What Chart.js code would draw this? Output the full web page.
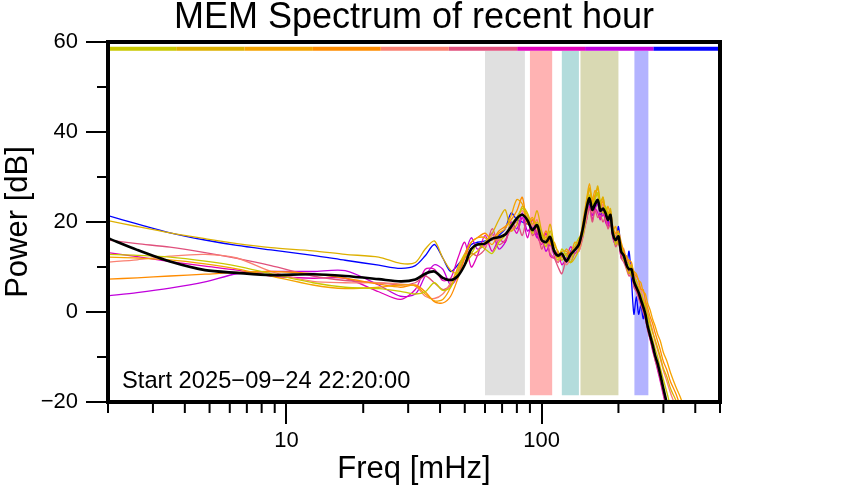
<!DOCTYPE html>
<html>
<head>
<meta charset="utf-8">
<script src="https://cdn.jsdelivr.net/npm/chart.js@4.4.0/dist/chart.umd.min.js"></script>
<style>
  html, body { margin: 0; padding: 0; background: #fff; }
</style>
</head>
<body>
<canvas id="memChart" width="842" height="500"></canvas>
<script>
// frequencies (mHz) shared by every spectrum
var freqs = [2, 2.6, 3.5, 4.8, 6.4, 8.7, 12.7, 17, 23,
  28, 32, 35, 38, 41, 44, 47, 50, 53, 56,
  60, 64, 68, 72, 76, 80, 84, 88, 92, 96,
  100, 104, 108, 112, 116, 120, 125, 130, 135, 140,
  145, 150, 154, 158, 162, 166, 170, 174, 178, 182,
  186, 190, 195, 200, 205, 210, 215, 220, 225, 230,
  235, 240, 245, 250, 255, 260, 266, 272, 278, 285,
  292, 300, 310, 320, 335, 350, 370];

// mean spectrum of the hour (black)
var meanPower = [16.4, 13.8, 11.2, 9.3, 8.7, 8.2, 8.4, 8.0, 7.3,
  6.8, 7.2, 8.5, 9.0, 7.6, 7.1, 8.0, 10.5, 14.0, 15.0,
  15.2, 16.3, 16.6, 17.2, 19.0, 20.8, 21.6, 20.4, 18.2, 19.3,
  16.0, 15.5, 16.7, 13.5, 12.5, 13.0, 11.3, 12.8, 13.8, 15.0,
  18.5, 23.0, 25.3, 22.7, 24.0, 24.9, 22.5, 23.0, 22.0, 20.5,
  21.6, 17.5, 16.0, 16.8, 13.4, 12.5, 10.5, 9.5, 9.5, 6.8,
  5.5, 4.3, 2.7, 1.2, -0.5, -3.0, -5.2, -7.2, -9.5, -11.5,
  -14.0, -17.0, -20.5, -24.0, -28.0, -32.0, -37.0];

// the nine spectra of the hour, oldest first
var run1 = [12.8, 12.6, 12.2, 11.3, 10.2, 8.5, 6.5, 5.5, 5.2,
  4.6, 4.0, 4.5, 6.5, 4.8, 5.5, 9.0, 12.5, 13.0, 15.0,
  14.0, 13.0, 15.5, 17.0, 19.5, 21.0, 23.0, 21.5, 17.5, 20.0,
  17.5, 14.5, 18.0, 14.0, 11.5, 14.0, 12.5, 11.0, 14.5, 16.5,
  17.0, 22.5, 26.0, 23.5, 25.0, 26.5, 23.5, 22.0, 23.5, 21.5,
  20.0, 18.5, 15.0, 17.5, 14.5, 11.5, 11.0, 10.5, 8.0, 7.5,
  7.0, 4.5, 4.0, 2.5, 0.5, -1.0, -4.0, -6.0, -8.0, -10.0,
  -12.5, -15.0, -18.0, -21.0, -24.5, -28.0, -33.0];
var run2 = [20.3, 19.0, 17.6, 16.3, 15.2, 14.3, 13.6, 12.8, 12.2,
  10.8, 11.0, 14.0, 15.8, 12.0, 9.3, 8.5, 10.5, 12.5, 13.5,
  15.5, 17.5, 20.5, 22.7, 18.0, 19.5, 23.5, 22.0, 19.5, 22.5,
  18.0, 16.0, 19.5, 15.0, 13.5, 11.5, 13.0, 11.0, 12.0, 14.0,
  18.5, 24.5, 27.5, 24.0, 25.5, 28.0, 24.5, 25.5, 22.5, 21.0,
  23.0, 18.5, 16.5, 15.0, 14.5, 13.0, 10.0, 8.5, 10.5, 8.0,
  6.0, 5.5, 3.5, 2.5, 1.5, -0.5, -2.5, -4.5, -6.0, -8.0,
  -10.0, -12.5, -14.5, -17.0, -19.5, -22.0, -26.0];
var run3 = [12.2, 12.0, 11.6, 10.7, 9.6, 8.0, 6.0, 5.2, 5.5,
  6.0, 5.8, 4.0, 2.5, 2.8, 5.5, 10.0, 13.0, 15.5, 16.5,
  16.5, 15.0, 17.5, 18.5, 21.5, 25.0, 24.0, 20.0, 21.0, 18.5,
  17.0, 16.5, 15.0, 15.5, 13.0, 12.0, 14.0, 13.0, 15.5, 15.0,
  20.0, 25.0, 28.5, 25.0, 27.0, 26.0, 23.0, 25.5, 21.5, 23.5,
  21.0, 18.0, 19.0, 16.0, 15.0, 12.0, 12.5, 10.5, 10.0, 9.0,
  8.5, 7.0, 6.5, 4.5, 4.0, 2.0, 0.5, -1.5, -3.0, -5.0,
  -6.5, -9.0, -11.0, -13.5, -16.5, -19.0, -23.0];
var run4 = [7.3, 7.6, 8.0, 8.4, 8.8, 9.0, 8.5, 7.5, 6.2,
  5.5, 6.0, 4.5, 2.3, 2.0, 3.5, 7.5, 12.0, 15.5, 16.5,
  17.5, 16.0, 18.0, 19.0, 20.5, 22.5, 25.5, 19.5, 20.5, 19.0,
  16.0, 18.0, 15.5, 14.0, 12.0, 13.5, 13.5, 12.5, 14.0, 16.0,
  19.0, 23.5, 27.5, 24.5, 26.0, 27.5, 24.0, 24.5, 23.0, 22.0,
  22.5, 19.0, 17.5, 18.0, 15.5, 13.5, 12.0, 11.5, 11.0, 8.5,
  8.0, 7.0, 5.0, 5.0, 2.5, 1.0, -1.0, -2.5, -4.5, -6.5,
  -8.5, -11.0, -13.0, -15.5, -18.0, -21.0, -25.0];
var run5 = [11.1, 11.6, 12.4, 12.8, 12.0, 9.0, 6.8, 6.5, 6.5,
  6.2, 5.8, 3.5, 3.0, 4.0, 6.5, 9.5, 12.5, 14.0, 15.0,
  14.5, 17.0, 16.0, 17.5, 18.0, 21.0, 22.5, 21.0, 19.0, 20.5,
  15.5, 17.0, 15.5, 13.0, 11.0, 13.0, 10.5, 12.0, 14.5, 13.5,
  17.0, 21.0, 25.0, 22.0, 24.5, 24.5, 22.0, 24.0, 21.5, 22.0,
  21.0, 18.5, 17.0, 17.5, 14.5, 14.0, 11.5, 11.0, 10.0, 9.0,
  7.0, 6.0, 5.0, 3.0, 2.0, 0.0, -2.0, -4.0, -6.5, -8.5,
  -10.5, -13.0, -15.5, -18.0, -21.0, -24.0, -28.0];
var run6 = [16.0, 15.2, 14.4, 13.2, 11.9, 10.3, 8.0, 7.0, 6.5,
  6.0, 6.5, 8.0, 6.5, 5.0, 6.0, 8.5, 12.0, 13.0, 12.5,
  14.0, 18.5, 15.0, 16.0, 18.5, 20.0, 17.0, 21.5, 17.0, 18.0,
  14.0, 16.0, 13.0, 12.0, 10.0, 8.5, 11.5, 11.0, 13.0, 13.5,
  16.5, 20.5, 23.0, 20.0, 22.5, 21.0, 21.5, 20.0, 21.0, 18.5,
  19.5, 17.5, 14.5, 15.5, 12.0, 11.0, 9.5, 8.0, 8.5, 5.5,
  4.5, 3.0, 1.5, 0.0, -1.5, -4.0, -6.0, -8.0, -10.5, -12.5,
  -15.0, -18.0, -21.5, -25.0, -29.0, -33.0, -38.0];
var run7 = [13.2, 12.3, 11.2, 10.2, 9.3, 8.0, 7.5, 7.5, 4.5,
  2.8, 5.0, 9.5, 9.5, 7.0, 7.5, 12.0, 15.5, 10.0, 12.5,
  17.0, 13.5, 16.0, 15.5, 19.5, 17.5, 21.0, 16.5, 20.5, 17.0,
  15.0, 17.5, 12.5, 12.0, 13.5, 10.5, 12.0, 14.5, 13.0, 14.5,
  17.5, 20.5, 23.5, 20.5, 23.0, 22.0, 20.5, 22.5, 20.0, 19.0,
  21.0, 16.5, 15.0, 16.5, 12.0, 12.0, 10.0, 8.5, 9.0, 6.0,
  5.0, 3.5, 2.5, 0.5, -1.5, -3.5, -6.0, -8.5, -10.5, -13.0,
  -15.5, -18.5, -22.0, -25.5, -29.5, -33.5, -38.0];
var run8 = [3.6, 4.3, 5.3, 6.7, 8.5, 9.0, 9.0, 9.2, 6.0,
  3.5, 4.0, 8.0, 10.5, 9.5, 6.0, 8.0, 12.5, 16.5, 14.0,
  15.0, 17.5, 14.0, 15.5, 20.0, 18.5, 22.0, 18.0, 19.0, 16.5,
  16.5, 13.5, 15.0, 12.5, 11.0, 12.5, 11.0, 13.5, 14.5, 15.5,
  18.0, 22.0, 24.5, 21.5, 23.0, 24.0, 21.0, 21.5, 21.5, 19.5,
  20.5, 17.0, 15.5, 16.0, 12.5, 12.0, 10.5, 9.0, 8.0, 6.5,
  5.0, 4.0, 2.0, 1.0, -1.0, -3.0, -5.5, -7.5, -10.0, -12.0,
  -14.5, -17.5, -21.0, -24.5, -28.5, -32.5, -37.0];
var run9 = [21.4, 19.6, 17.6, 16.0, 14.8, 13.8, 12.6, 11.5, 10.4,
  9.7, 10.3, 12.5, 15.0, 12.0, 9.0, 10.5, 12.5, 15.0, 15.5,
  15.8, 16.0, 17.0, 18.5, 22.0, 20.5, 20.0, 19.5, 19.0, 17.5,
  16.4, 15.6, 15.8, 14.0, 12.7, 13.0, 11.6, 13.4, 14.5, 15.0,
  17.5, 22.0, 24.0, 22.0, 23.5, 24.5, 21.5, 22.5, 21.0, 20.0,
  21.0, 17.0, 15.0, 19.0, 13.8, 12.5, 10.0, 13.5, 7.0, -0.5,
  3.4, -0.5, 1.5, -1.5, 1.0, -3.5, -5.5, -8.0, -10.0, -12.5,
  -15.0, -18.0, -21.5, -25.0, -29.0, -33.0, -38.0];
var runColors = ['#c8c800', '#ddb000', '#f5a300', '#ff8c00', '#fa8072',
  '#e0507c', '#e000b8', '#c000dc', '#0000ff'];

// time colour bar along the top (segment edges in mHz) and its level in dB
var timeBarEdges = [2, 3.7, 6.85, 12.7, 23.4, 43.3, 80.2, 148, 274, 500];
var timeBarLevel = 58.5;

// shaded frequency bands (mHz)
var bandLow = [60, 90, 120, 142, 231];
var bandHigh = [86, 110, 140, 200, 262];
var bandColors = ['#e0e0e0', '#ffb3b3', '#b3dcdc', '#d9d9b3', '#b3b3ff'];

// axis ticks
var xMajorTicks = [10, 100];
var xTickLabels = ['10', '100'];
var xMinorTicks = [2, 3, 4, 5, 6, 7, 8, 9, 20, 30, 40, 50, 60, 70, 80, 90, 200, 300, 400, 500];
var yMajorTicks = [-20, 0, 20, 40, 60];
var yTickLabels = ['\u221220', '0', '20', '40', '60'];
var yMinorTicks = [-10, 10, 30, 50];

var startText = 'Start 2025\u221209\u221224 22:20:00';

function toPoints(values) {
  return freqs.map(function(f, i) { return { x: f, y: values[i] }; });
}

var memDecor = {
  id: 'memDecor',
  beforeDatasetsDraw: function(chart) {
    var ctx = chart.ctx, xs = chart.scales.x, ys = chart.scales.y;
    var top = ys.getPixelForValue(58), bot = ys.getPixelForValue(-18.5);
    ctx.save();
    for (var i = 0; i < bandLow.length; i++) {
      var x0 = xs.getPixelForValue(bandLow[i]);
      var x1 = xs.getPixelForValue(bandHigh[i]);
      ctx.fillStyle = bandColors[i];
      ctx.fillRect(x0, top, x1 - x0, bot - top);
    }
    ctx.restore();
  },
  afterDraw: function(chart) {
    var ctx = chart.ctx, a = chart.chartArea, xs = chart.scales.x, ys = chart.scales.y;
    ctx.save();
    ctx.strokeStyle = '#000';
    ctx.lineWidth = 2;
    ctx.beginPath();
    xMinorTicks.forEach(function(v) {
      var px = xs.getPixelForValue(v);
      ctx.moveTo(px, a.bottom);
      ctx.lineTo(px, a.bottom + 11);
    });
    yMinorTicks.forEach(function(v) {
      var py = ys.getPixelForValue(v);
      ctx.moveTo(a.left - 11, py);
      ctx.lineTo(a.left, py);
    });
    ctx.stroke();
    ctx.lineWidth = 4;
    ctx.strokeRect(a.left, a.top, a.right - a.left, a.bottom - a.top);
    ctx.fillStyle = '#000';
    ctx.font = '23.7px "Liberation Sans", Arial, sans-serif';
    ctx.textBaseline = 'alphabetic';
    ctx.fillText(startText, a.left + 14, 388);
    ctx.restore();
  }
};

var datasets = [{
  label: 'mean', data: toPoints(meanPower), borderColor: '#000', borderWidth: 2.6, order: 0
}];
[run1, run2, run3, run4, run5, run6, run7, run8, run9].forEach(function(s, i) {
  datasets.push({ label: 'run ' + (i + 1), data: toPoints(s), borderColor: runColors[i], borderWidth: 1.3, order: 1 });
});
for (var k = 0; k < runColors.length; k++) {
  datasets.push({
    label: 'bar ' + (k + 1),
    data: [{ x: timeBarEdges[k], y: timeBarLevel }, { x: timeBarEdges[k + 1], y: timeBarLevel }],
    borderColor: runColors[k], borderWidth: 4, tension: 0, borderCapStyle: 'butt', order: 2
  });
}

Chart.defaults.font.family = '"Liberation Sans", Arial, sans-serif';
Chart.defaults.color = '#000';

new Chart(document.getElementById('memChart').getContext('2d'), {
  type: 'line',
  data: { datasets: datasets },
  options: {
    responsive: false,
    animation: false,
    clip: 0,
    layout: { padding: { left: 0, right: 122, top: 0, bottom: 0 } },
    elements: { point: { radius: 0 }, line: { tension: 0.28 } },
    plugins: {
      legend: { display: false },
      tooltip: { enabled: false },
      title: {
        display: true,
        text: 'MEM Spectrum of recent hour',
        fullSize: false,
        color: '#000',
        font: { size: 36, weight: 'normal', lineHeight: 1.0 },
        padding: { top: 0, bottom: 6 }
      }
    },
    scales: {
      x: {
        type: 'logarithmic',
        min: 2,
        max: 500,
        afterBuildTicks: function(s) { s.ticks = xMajorTicks.map(function(v) { return { value: v }; }); },
        afterFit: function(s) { s.height = 98; },
        border: { display: false },
        grid: { drawOnChartArea: false, color: '#000', lineWidth: 2, tickLength: 22 },
        ticks: {
          font: { size: 22 }, color: '#000', padding: 4, maxRotation: 0, autoSkip: false,
          callback: function(v) { return xTickLabels[xMajorTicks.indexOf(v)]; }
        },
        title: { display: true, text: 'Freq [mHz]', font: { size: 31 }, padding: { top: 0, bottom: 12 } }
      },
      y: {
        type: 'linear',
        min: -20,
        max: 60,
        afterBuildTicks: function(s) { s.ticks = yMajorTicks.map(function(v) { return { value: v }; }); },
        afterFit: function(s) { s.width = 108; },
        border: { display: false },
        grid: { drawOnChartArea: false, color: '#000', lineWidth: 2, tickLength: 22 },
        ticks: {
          font: { size: 22 }, color: '#000', padding: 8,
          callback: function(v) { return yTickLabels[yMajorTicks.indexOf(v)]; }
        },
        title: { display: true, text: 'Power [dB]', font: { size: 31 }, padding: { top: 0, bottom: 0 } }
      }
    }
  },
  plugins: [memDecor]
});
</script>
</body>
</html>
